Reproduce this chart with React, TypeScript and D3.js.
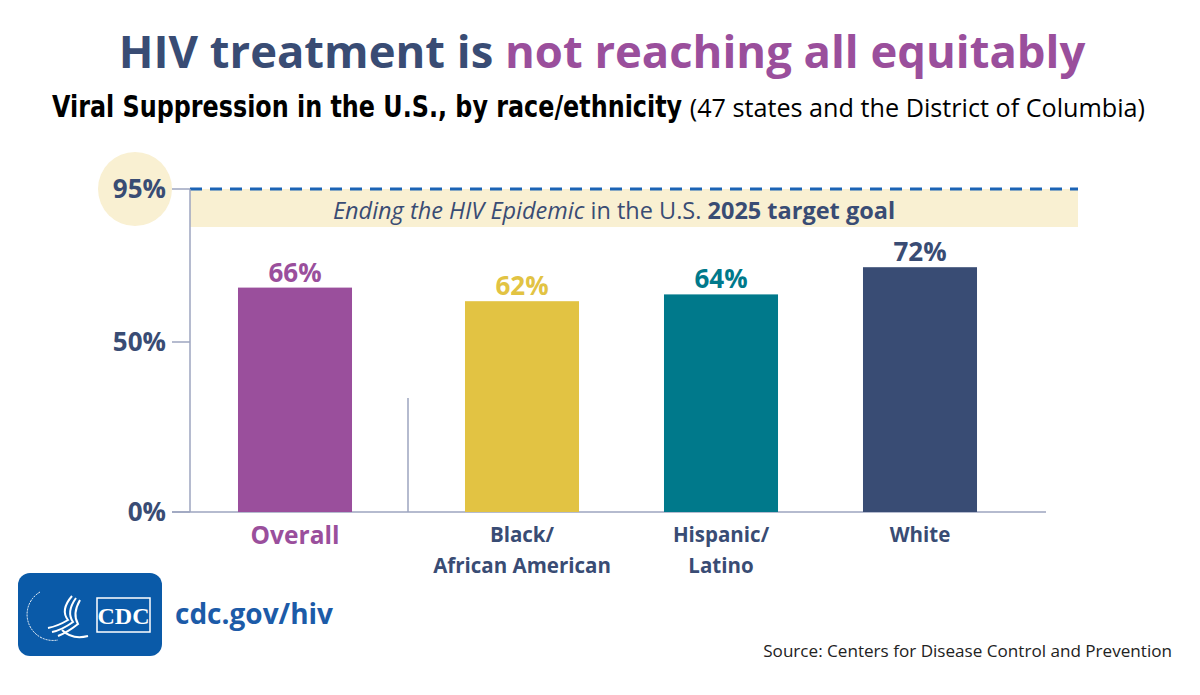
import React, { useLayoutEffect, useRef, useState } from "react";
import * as d3 from "d3";

const categories = ["Overall", "Black/African American", "Hispanic/Latino", "White"];
const labelLines = [["Overall"], ["Black/", "African American"], ["Hispanic/", "Latino"], ["White"]];
const values = [66, 62, 64, 72];
const barColors = ["#9a4f9c", "#e2c343", "#00798b", "#394c74"];
const labelColors = ["#9a4f9c", "#e2c343", "#00798b", "#394c74"];
const tickValues = [0, 50, 95];
const targetGoal = 95;

const NAVY = "#394c74";
const FONT = "'Open Sans', sans-serif";

const App = () => {
  const width = 1200;
  const height = 695;
  const subRef = useRef<SVGTextElement>(null);
  const [subScale, setSubScale] = useState(0.78);

  // squeeze the bold subtitle to a condensed look
  useLayoutEffect(() => {
    if (subRef.current) {
      const w = subRef.current.getComputedTextLength();
      if (w > 0) setSubScale(630 / w);
    }
  }, []);

  const y = d3.scaleLinear().domain([0, 100]).range([512, 172]);
  // overall sits apart from the race groups
  const xOverall = d3.scaleBand().domain([categories[0]]).range([195.5, 394.5]).paddingInner(0.427).paddingOuter(0.2135);
  const xGroups = d3.scaleBand().domain(categories.slice(1)).range([422.5, 1019.5]).paddingInner(0.427).paddingOuter(0.2135);
  const bw = xGroups.bandwidth();
  const center = (c: string, i: number) =>
    i === 0 ? (xOverall(c) as number) + xOverall.bandwidth() / 2 : (xGroups(c) as number) + bw / 2;

  const axisX = 190;
  const plotRight = 1046;
  const bandRight = 1078;
  const yTarget = y(targetGoal);

  return (
    <svg width={width} height={height} style={{ position: "absolute", left: 0, top: 0, background: "#fff" }}>
      <rect width={width} height={height} fill="#fff" />

      {/* titles */}
      <text x={602} y={68} textAnchor="middle" fontFamily={FONT} fontWeight={700} fontSize={45.4}>
        <tspan fill={NAVY}>HIV treatment is </tspan>
        <tspan fill="#9a4f9c">not reaching all equitably</tspan>
      </text>
      <text ref={subRef} transform={`translate(52,117) scale(${subScale},1)`} fontFamily="'DejaVu Sans', sans-serif"
        fontWeight="bold" fontSize={30} fill="#000">
        Viral Suppression in the U.S., by race/ethnicity
      </text>
      <text x={1145} y={117} textAnchor="end" fontFamily={FONT} fontSize={25.2} fill="#000">
        (47 states and the District of Columbia)
      </text>

      {/* target band */}
      <rect x={axisX} y={yTarget} width={bandRight - axisX} height={38} fill="#f9f0d2" />
      <line x1={axisX} x2={bandRight} y1={yTarget} y2={yTarget} stroke="#1b63b5" strokeWidth={3} strokeDasharray="12 8" />
      <text x={614} y={219} textAnchor="middle" fontFamily={FONT} fontSize={23.5} fill={NAVY}>
        <tspan fontStyle="italic">Ending the HIV Epidemic</tspan>
        <tspan> in the U.S. </tspan>
        <tspan fontWeight="bold">2025 target goal</tspan>
      </text>

      {/* axis */}
      <circle cx={135} cy={yTarget} r={37} fill="#f9f0d2" />
      <line x1={axisX} x2={axisX} y1={yTarget} y2={y(0)} stroke="#9ca5bf" strokeWidth={1.5} />
      <line x1={172} x2={plotRight} y1={y(0)} y2={y(0)} stroke="#9ca5bf" strokeWidth={1.5} />
      {tickValues.map((t) => (
        <g key={t}>
          <line x1={172} x2={axisX} y1={y(t)} y2={y(t)} stroke="#9ca5bf" strokeWidth={1.5} />
          <text x={166} y={y(t)} dy="0.36em" textAnchor="end" fontFamily={FONT} fontWeight="bold" fontSize={26} fill={NAVY}>
            {t}%
          </text>
        </g>
      ))}
      {/* separator between overall and groups */}
      <line x1={408} x2={408} y1={398} y2={y(0)} stroke="#9ca5bf" strokeWidth={1.5} />

      {/* bars */}
      {categories.map((c, i) => {
        const cx = center(c, i);
        return (
          <g key={c}>
            <rect x={cx - bw / 2} y={y(values[i])} width={bw} height={y(0) - y(values[i])} fill={barColors[i]} />
            <text x={cx} y={y(values[i]) - 6} textAnchor="middle" fontFamily={FONT} fontWeight="bold" fontSize={26} fill={labelColors[i]}>
              {values[i]}%
            </text>
            {labelLines[i].map((l, j) => (
              <text key={j} x={cx} y={(i === 0 ? 544 : 542) + j * 31}
                textAnchor="middle" fontFamily={FONT} fontWeight="bold" fontSize={i === 0 ? 24.5 : 20.5}
                fill={i === 0 ? "#9a4f9c" : NAVY}>
                {l}
              </text>
            ))}
          </g>
        );
      })}

      {/* logo */}
      <rect x={18} y={573} width={144} height={83} rx={12} fill="#0a5aa8" />
      <g fill="none" stroke="#fff" strokeWidth={2}>
        <path d="M 40 592 A 26 26 0 0 0 58 640" strokeWidth={1} strokeDasharray="2 1" />
        <path d="M 72 596 Q 60 610 68 620 Q 58 626 48 628" />
        <path d="M 76 598 Q 66 612 73 622 Q 62 630 52 632" />
        <path d="M 80 600 Q 72 614 78 624 Q 68 632 58 636" />
        <path d="M 62 630 Q 72 640 88 636" />
      </g>
      <rect x={97} y={598} width={53} height={34} fill="none" stroke="#fff" strokeWidth={1.5} />
      <text x={123.5} y={624} textAnchor="middle" fontFamily="Liberation Serif" fontWeight="bold" fontSize={24} fill="#fff">CDC</text>
      <text x={175} y={624} fontFamily={FONT} fontWeight="bold" fontSize={28} fill="#1c5ba8">cdc.gov/hiv</text>

      <text x={1172} y={657} textAnchor="end" fontFamily={FONT} fontSize={17.1} fill="#222">
        Source: Centers for Disease Control and Prevention
      </text>
    </svg>
  );
};

export default App;
